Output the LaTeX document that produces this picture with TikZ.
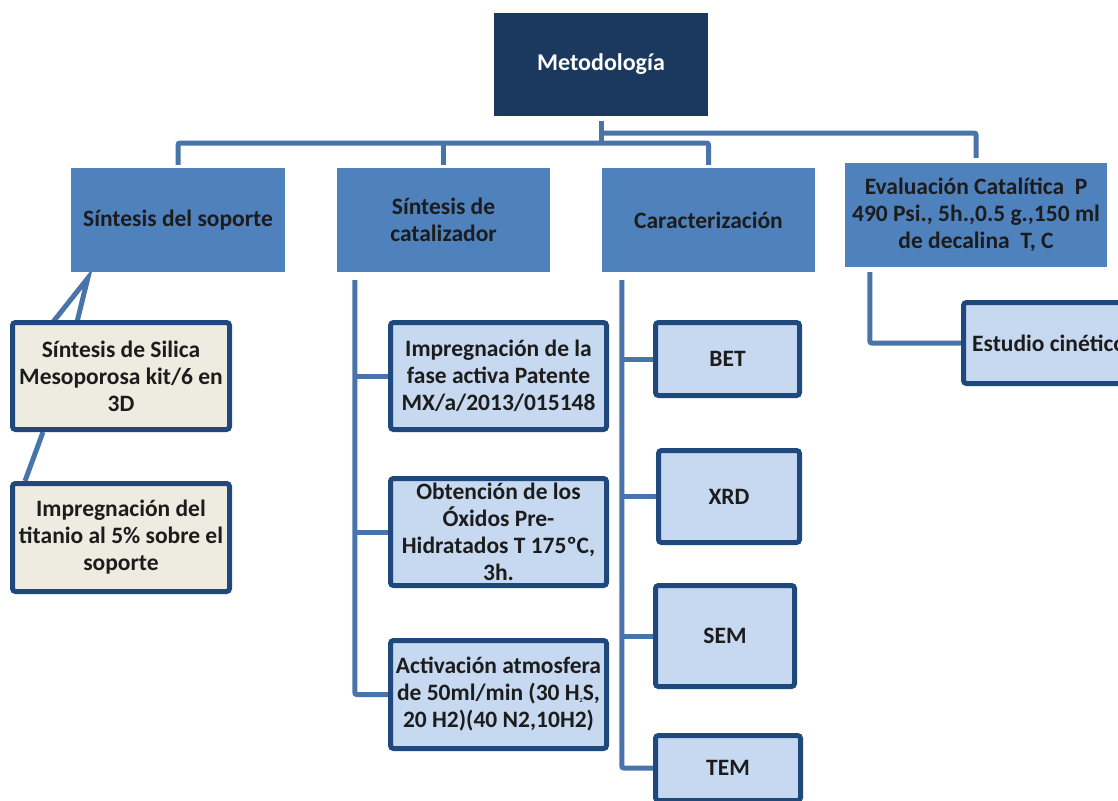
\documentclass[tikz,border=0pt]{standalone}
\usepackage{fontspec}
\setmainfont{Carlito}
\usepackage{xcolor}
\usepackage{tikz}
\usetikzlibrary{calc, backgrounds}
\definecolor{navy}{RGB}{27,56,94}
\definecolor{midblue}{RGB}{79,129,189}
\definecolor{lineblue}{RGB}{72,116,170}
\definecolor{edgeblue}{RGB}{31,73,125}
\definecolor{paleblue}{RGB}{198,217,241}
\definecolor{cream}{RGB}{238,236,225}
\definecolor{ink}{RGB}{28,28,28}

\begin{document}
\begin{tikzpicture}[x=1pt, y=-1pt, font=\bfseries\fontsize{23.5}{27}\selectfont,
    top/.style={fill=navy, text=white, font=\bfseries\fontsize{24}{27}\selectfont, minimum width=214pt, minimum height=103pt},
    lvl/.style={fill=midblue, text=ink, align=center, minimum height=104pt},
    sub/.style={draw=edgeblue, line width=5pt, rounded corners=3pt, fill=paleblue, text=ink, align=center, inner sep=1pt},
    subc/.style={sub, fill=cream},
    link/.style={draw=lineblue, line width=5pt, rounded corners=2pt}]
    \useasboundingbox (0,0) rectangle (1118,800);
    \clip (0,0) rectangle (1118,800);
    \node[top] (meto) at (601,64.5) {Metodología};
    \node[lvl, minimum width=214pt] (sop) at (178,220) {Síntesis del soporte};
    \node[lvl, minimum width=213pt] (cat) at (443.5,220) {Síntesis de\\catalizador};
    \node[lvl, minimum width=213pt] (car) at (708.5,220) {Caracterización};
    \node[lvl, minimum width=262pt] (eva) at (976,215) {Evaluación Catalítica~~P\\490 Psi., 5h.,0.5 g.,150 ml\\de decalina~~T, C};
    % soporte
    \node[subc, minimum width=217pt, minimum height=107pt] (sil) at (121,376) {Síntesis de Silica\\Mesoporosa kit/6 en\\3D};
    \node[subc, minimum width=217pt, minimum height=108pt] (tit) at (121,537.5) {Impregnación del\\titanio al 5\% sobre el\\soporte};
    % catalizador
    \node[sub, minimum width=216pt, minimum height=107pt] (imp) at (498.5,376) {Impregnación de la\\fase activa Patente\\MX/a/2013/015148};
    \node[sub, minimum width=216pt, minimum height=107pt] (obt) at (498.5,532) {Obtención de los\\Óxidos Pre-\\Hidratados T 175ºC,\\3h.};
    \node[sub, minimum width=216pt, minimum height=108pt] (act) at (498.5,694.5) {Activación atmosfera\\de 50ml/min (30 H{\fontsize{6}{6}\selectfont\raisebox{-2pt}{2}}S,\\20 H2)(40 N2,10H2)};
    % caracterizacion
    \node[sub, minimum width=144pt, minimum height=73pt] (bet) at (727.5,359) {BET};
    \node[sub, minimum width=141pt, minimum height=92pt] (xrd) at (729,496.5) {XRD};
    \node[sub, minimum width=139pt, minimum height=101pt] (sem) at (725,636) {SEM};
    \node[sub, minimum width=145pt, minimum height=65pt] (tem) at (728,768) {TEM};
    % evaluacion
    \node[sub, minimum width=171pt, minimum height=81pt] (est) at (1049,343) {Estudio cinético};
    \begin{scope}[on background layer]
      \coordinate (hub) at (601,143);
      \coordinate (hubr) at (601,133);
      \draw[link, shorten <=5pt] (meto.south) -- (hub);
      \draw[link, shorten <=3pt, shorten >=3pt] (sop.north) |- (hub) -| (car.north);
      \draw[link, shorten >=3pt] (cat.north |- hub) -- (cat.north);
      \draw[link, shorten >=5pt] (hubr) -| (eva.north);
      \coordinate (vtip) at ($(sop.south west)+(17,6)$);
      \draw[link, rounded corners=0pt] ($(sil.north west)+(43,2)$) -- (vtip) -- ($(sil.north west)+(67,2)$);
      \draw[link] ($(sil.south west)+(33,0)$) -- ($(tit.north west)+(15,0)$);
      \coordinate (cspine) at ($(cat.south west)+(18,8)$);
      \draw[link] (cspine) |- (act.west);
      \foreach \b in {imp,obt} \draw[link] (cspine |- \b.west) -- (\b.west);
      \coordinate (rspine) at ($(car.south west)+(20,8)$);
      \draw[link] (rspine) |- (tem.west);
      \foreach \b in {bet,xrd,sem} \draw[link] (rspine |- \b.west) -- (\b.west);
      \coordinate (espine) at ($(eva.south west)+(25,5)$);
      \draw[link] (espine) |- (est.west);
    \end{scope}
  \end{tikzpicture}
\end{document}
